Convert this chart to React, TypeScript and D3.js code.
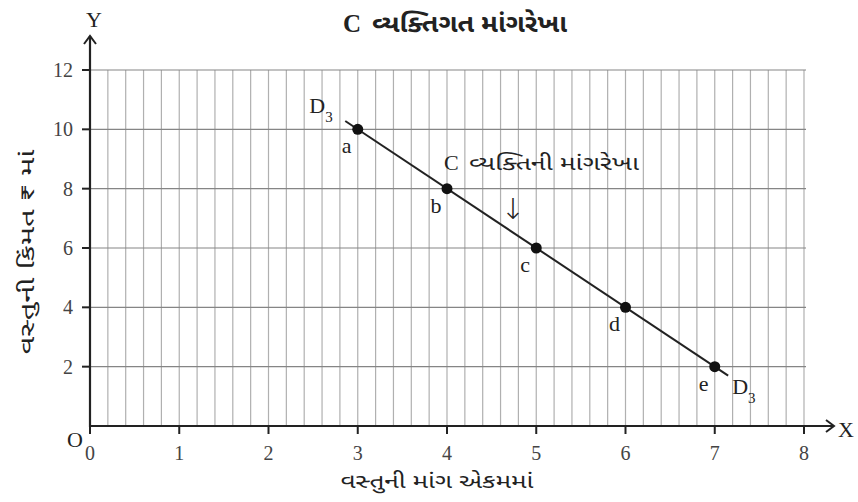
import React from "react";
import * as d3 from "d3";

const pointLabels = ["a", "b", "c", "d", "e"];
const quantities = [3, 4, 5, 6, 7];
const prices = [10, 8, 6, 4, 2];
const lineEnds = [
  { q: 2.86, p: 10.28 },
  { q: 7.15, p: 1.7 },
];
const xTicks = [0, 1, 2, 3, 4, 5, 6, 7, 8];
const yTicks = [2, 4, 6, 8, 10, 12];
const titleLetter = "C";
const titleText = "વ્યક્તિગત માંગરેખા";
const annotationLetter = "C";
const annotationText = "વ્યક્તિની માંગરેખા";
const arrowGlyph = "↓";
const xLabel = "વસ્તુની માંગ એકમમાં";
const yLabel = "વસ્તુની કિંમત ₹ માં";

const W = 858;
const H = 502;
const serif = "'Liberation Serif', 'DejaVu Serif', serif";
const guj = "'Noto Sans Gujarati', 'Lohit Gujarati', 'Noto Serif Gujarati', sans-serif";

export default function App() {
  const x = d3.scaleLinear().domain([0, 8]).range([90, 804]);
  const y = d3.scaleLinear().domain([0, 12]).range([426, 70]);
  const vGrid = d3.range(0, 40).map((i) => (i + 1) * 0.2);
  const hGrid = yTicks;
  const line = d3
    .line<{ q: number; p: number }>()
    .x((d) => x(d.q))
    .y((d) => y(d.p));

  return (
    <svg
      width={W}
      height={H}
      style={{ position: "absolute", left: 0, top: 0, background: "#fff" }}
    >
      {/* grid */}
      {vGrid.map((v, i) => (
        <line
          key={"v" + i}
          x1={x(v)}
          x2={x(v)}
          y1={y(12)}
          y2={y(0)}
          stroke="#b0b0b0"
          strokeWidth={1.2}
        />
      ))}
      {hGrid.map((v, i) => (
        <line
          key={"h" + i}
          x1={x(0)}
          x2={x(8) + 2}
          y1={y(v)}
          y2={y(v)}
          stroke="#858585"
          strokeWidth={1.2}
        />
      ))}
      {/* axes */}
      <line x1={x(0)} x2={x(0)} y1={y(0) + 1} y2={36} stroke="#222" strokeWidth={2.2} />
      <path d={`M${x(0) - 6},${44} L${x(0)},${36} L${x(0) + 6},${44}`} fill="none" stroke="#222" strokeWidth={2} />
      <line x1={x(0) - 1} x2={834} y1={y(0)} y2={y(0)} stroke="#222" strokeWidth={2.2} />
      <path d={`M${826},${y(0) - 6} L${834},${y(0)} L${826},${y(0) + 6}`} fill="none" stroke="#222" strokeWidth={2} />
      {/* ticks */}
      {yTicks.map((t) => (
        <g key={"yt" + t}>
          <line x1={x(0) - 8} x2={x(0)} y1={y(t)} y2={y(t)} stroke="#222" strokeWidth={2} />
          <text x={73} y={y(t) + 7} textAnchor="end" fontFamily={serif} fontSize={20} fill="#444">
            {t}
          </text>
        </g>
      ))}
      {xTicks.map((t) => (
        <g key={"xt" + t}>
          <line x1={x(t)} x2={x(t)} y1={y(0)} y2={y(0) + 8} stroke="#222" strokeWidth={2} />
          <text x={x(t)} y={y(0) + 34} textAnchor="middle" fontFamily={serif} fontSize={20} fill="#444">
            {t}
          </text>
        </g>
      ))}
      <text x={67} y={y(0) + 21} fontFamily={serif} fontSize={22} fill="#222">O</text>
      <text x={94} y={27} textAnchor="middle" fontFamily={serif} fontSize={22} fill="#222">Y</text>
      <text x={838} y={y(0) + 11} fontFamily={serif} fontSize={22} fill="#222">X</text>

      {/* title */}
      <text x={343} y={32} fontFamily={serif} fontWeight="bold" fontSize={25} fill="#222">
        {titleLetter}
      </text>
      <text
        x={372}
        y={32}
        fontFamily={guj}
        fontWeight="bold"
        fontSize={24}
        fill="#222"
        textLength={195}
        lengthAdjust="spacingAndGlyphs"
      >
        {titleText}
      </text>

      {/* demand line */}
      <path d={line(lineEnds) || ""} fill="none" stroke="#222" strokeWidth={2} />
      {quantities.map((q, i) => (
        <g key={"p" + i}>
          <circle cx={x(q)} cy={y(prices[i])} r={5.5} fill="#111" />
          <text
            x={x(q) - 11}
            y={y(prices[i]) + 24}
            textAnchor="middle"
            fontFamily={serif}
            fontSize={22}
            fill="#222"
          >
            {pointLabels[i]}
          </text>
        </g>
      ))}
      <text x={x(lineEnds[0].q) - 36} y={y(lineEnds[0].p) - 8} fontFamily={serif} fontSize={22} fill="#222">
        D<tspan dy={9} fontSize={15}>3</tspan>
      </text>
      <text x={x(lineEnds[1].q) + 4} y={y(lineEnds[1].p) + 18} fontFamily={serif} fontSize={22} fill="#222">
        D<tspan dy={9} fontSize={15}>3</tspan>
      </text>

      {/* annotation */}
      <text x={444} y={170} fontFamily={serif} fontSize={22} fill="#222">
        {annotationLetter}
      </text>
      <text
        x={469}
        y={170}
        fontFamily={guj}
        fontSize={20}
        fill="#222"
        textLength={170}
        lengthAdjust="spacingAndGlyphs"
      >
        {annotationText}
      </text>
      <text
        x={513}
        y={219}
        textAnchor="middle"
        fontFamily="'DejaVu Sans', 'Liberation Sans', sans-serif"
        fontSize={29}
        fontWeight={200}
        fill="#222"
      >
        {arrowGlyph}
      </text>

      {/* axis titles */}
      <text
        x={437}
        y={488}
        textAnchor="middle"
        fontFamily={guj}
        fontSize={20}
        fill="#222"
        textLength={193}
        lengthAdjust="spacingAndGlyphs"
      >
        {xLabel}
      </text>
      <text
        transform={`translate(34,252) rotate(-90)`}
        textAnchor="middle"
        fontFamily={guj}
        fontSize={20}
        fill="#222"
        textLength={205}
        lengthAdjust="spacingAndGlyphs"
      >
        {yLabel}
      </text>
    </svg>
  );
}
